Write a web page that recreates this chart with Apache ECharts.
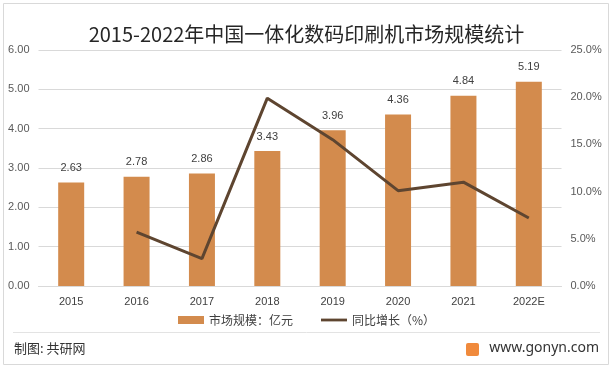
<!DOCTYPE html>
<html><head><meta charset="utf-8">
<script src="https://cdn.jsdelivr.net/npm/echarts@6/dist/echarts.min.js"></script>
<style>html,body{margin:0;padding:0;background:#fff}#c{width:613px;height:371px}</style>
</head><body><div id="c"></div>
<script>
const categories = ['2015','2016','2017','2018','2019','2020','2021','2022E'];
const marketSize = [2.63, 2.78, 2.86, 3.43, 3.96, 4.36, 4.84, 5.19];
const growth = [null, 5.7, 2.9, 19.9, 15.5, 10.1, 11.0, 7.2];
const leftTicks = ['0.00','1.00','2.00','3.00','4.00','5.00','6.00'];
const rightTicks = ['0.0%','5.0%','10.0%','15.0%','20.0%','25.0%'];

const chart = echarts.init(document.getElementById('c'));
chart.setOption({
  animation: false,
  textStyle: {fontFamily: '"Noto Sans CJK SC", sans-serif'},
  title: {text: '2015-2022年中国一体化数码印刷机市场规模统计', left: 'center', top: 19,
    textStyle: {fontSize: 20, fontWeight: 'normal', color: '#262626', fontFamily: '"Noto Sans CJK SC", sans-serif'}},
  legend: {bottom: 40, left: 'center', itemGap: 28, itemWidth: 26, itemHeight: 8,
    textStyle: {fontSize: 12, color: '#404040'},
    data: [{name: '市场规模：亿元', icon: 'rect'},
           {name: '同比增长（%）', icon: 'path://M0,0L28,0L28,3L0,3Z', itemStyle:{color:'#5E4530'}}]},
  grid: {left: 38.5, right: 51.5, top: 50, bottom: 85},
  xAxis: {type: 'category', data: categories, axisTick: {show: false},
    axisLine: {lineStyle: {color: '#D9D9D9'}},
    axisLabel: {color: '#404040', fontSize: 11, margin: 10, fontFamily: 'Liberation Sans, sans-serif'}},
  yAxis: [
    {type: 'value', min: 0, max: 6, interval: 1, position: 'left',
      axisLabel: {color: '#595959', fontSize: 11, margin: 9, fontFamily: 'Liberation Sans, sans-serif',
        formatter: v => leftTicks[Math.round(v)]},
      splitLine: {lineStyle: {color: '#D9D9D9'}}, axisLine: {show: false}, axisTick: {show: false}},
    {type: 'value', min: 0, max: 25, interval: 5, position: 'right',
      axisLabel: {color: '#595959', fontSize: 11, margin: 9, fontFamily: 'Liberation Sans, sans-serif',
        formatter: v => rightTicks[Math.round(v/5)]},
      splitLine: {show: false}, axisLine: {show: false}, axisTick: {show: false}}
  ],
  series: [
    {name: '市场规模：亿元', type: 'bar', data: marketSize, barWidth: 26,
      itemStyle: {color: '#D38B4D'},
      label: {show: true, position: 'top', distance: 9, color: '#404040', fontSize: 11,
        fontFamily: 'Liberation Sans, sans-serif', formatter: p => p.value.toFixed(2)}},
    {name: '同比增长（%）', type: 'line', yAxisIndex: 1, data: growth, symbol: 'none',
      lineStyle: {color: '#5E4530', width: 3}, itemStyle: {color: '#5E4530'}}
  ],
  graphic: [
    {type: 'rect', shape: {x: 3.5, y: 3.5, width: 605, height: 361}, style: {fill: 'none', stroke: '#D9D9D9', lineWidth: 1}},
    {type: 'line', shape: {x1: 13, y1: 332.5, x2: 600, y2: 332.5}, style: {stroke: '#E3E3E3', lineWidth: 1}},
    {type: 'text', left: 14, top: 342, style: {text: '制图: 共研网', fontSize: 13, fill: '#333', fontFamily: '"Noto Sans CJK SC", sans-serif'}},
    {type: 'rect', shape: {x: 466, y: 343, width: 13, height: 13, r: 2}, style: {fill: '#F08A3C'}},
    {type: 'text', right: 14, top: 341, style: {text: 'www.gonyn.com', fontSize: 14, fill: '#333', fontFamily: '"Noto Sans", sans-serif'}}
  ]
});
</script></body></html>
